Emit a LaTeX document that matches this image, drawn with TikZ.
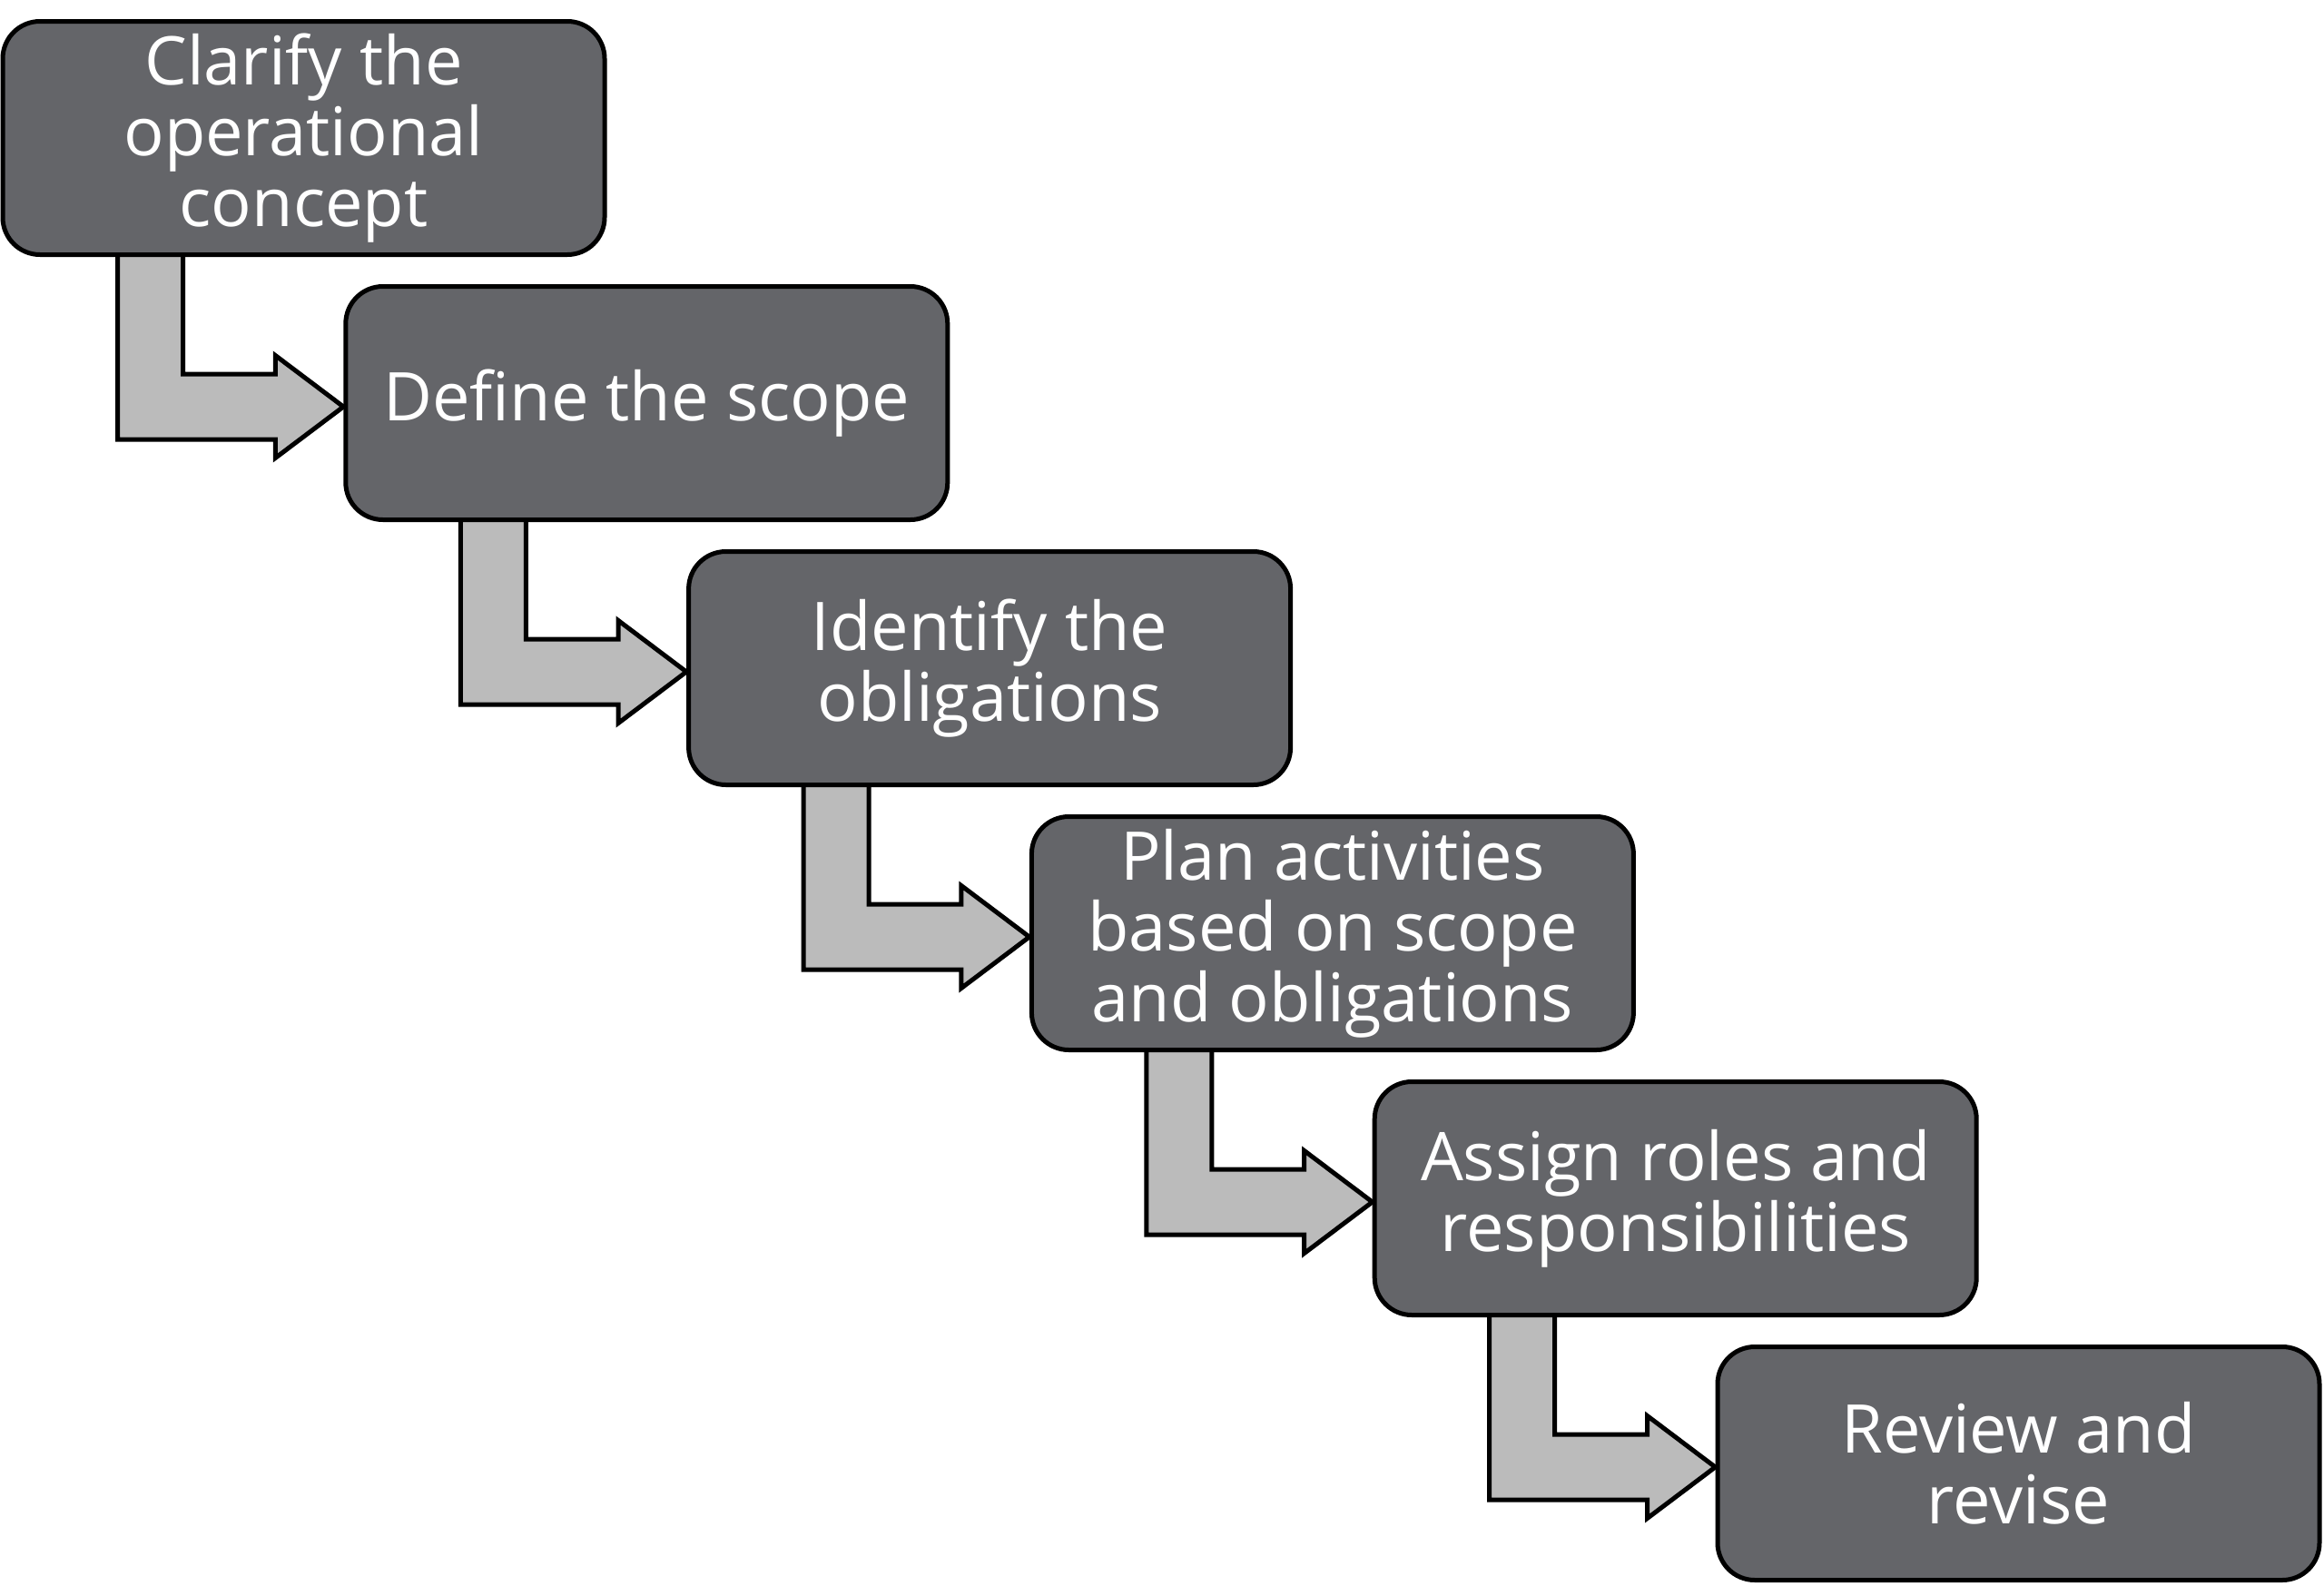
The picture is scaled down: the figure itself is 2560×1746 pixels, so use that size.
\documentclass[tikz,border=0pt]{standalone}
\usepackage{fontspec}
\setmainfont{Open Sans}
\usetikzlibrary{calc,backgrounds}
\definecolor{boxgray}{HTML}{646569}
\definecolor{arrgray}{HTML}{BBBBBB}
\tikzset{
  stepbox/.style={draw=black, line width=5pt, fill=boxgray, rounded corners=41pt,
    minimum width=663pt, minimum height=257pt, inner sep=0pt,
    text=white, align=center, font=\fontsize{74}{78}\selectfont},
  bentarrow/.style={draw=black, line width=5pt, fill=arrgray, line join=miter}
}
\begin{document}
\begin{tikzpicture}[x=1pt,y=-1pt]
\useasboundingbox (0,0) rectangle (2560,1746);
\node[stepbox] (b1) at (334.5,152) {Clarify the\\operational\\concept};
\node[stepbox] (b2) at (712.3,444) {Define the scope};
\node[stepbox] (b3) at (1090.1,736) {Identify the\\obligations};
\node[stepbox] (b4) at (1467.9,1028) {Plan activities\\based on scope\\and obligations};
\node[stepbox] (b5) at (1845.7,1320) {Assign roles and\\responsibilities};
\node[stepbox] (b6) at (2223.5,1612) {Review and\\revise};
\begin{scope}[on background layer]
\foreach \a/\b in {b1/b2,b2/b3,b3/b4,b4/b5,b5/b6}{
  \draw[bentarrow] let \p1=($(\a.south west)$), \p2=($(\b.west)$) in
    (\x1+129pt,\y1+12pt) -- (\x1+129pt,\y2-40pt) -- (\x2-75pt,\y2-40pt)
    -- (\x2-75pt,\y2-60.5pt) -- (\x2,\y2-4pt) -- (\x2-75pt,\y2+52.5pt)
    -- (\x2-75pt,\y2+32pt) -- (\x1+201pt,\y2+32pt) -- (\x1+201pt,\y1+12pt) -- cycle;
}
\end{scope}
\end{tikzpicture}
\end{document}
